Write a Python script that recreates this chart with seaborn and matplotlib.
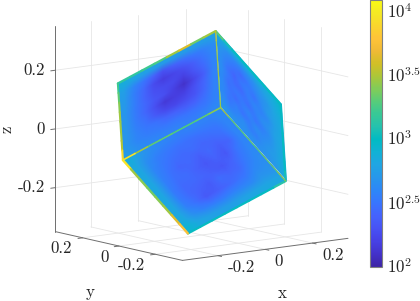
import numpy as np
import matplotlib
matplotlib.use("Agg")
import matplotlib.pyplot as plt
import seaborn as sns
from matplotlib.cm import ScalarMappable
from matplotlib.collections import LineCollection
from matplotlib.colors import Normalize
from matplotlib.transforms import Affine2D
from mpl_toolkits.mplot3d import proj3d

# ---- data (log10 of the plotted quantity) ----
AXIS_TICKS = [-0.2, 0.0, 0.2]
AXIS_TICK_LABELS = ["-0.2", "0", "0.2"]
CBAR_TICKS = [2, 2.5, 3, 3.5, 4]
CBAR_LABELS = [r"$10^{2}$", r"$10^{2.5}$", r"$10^{3}$", r"$10^{3.5}$", r"$10^{4}$"]

# cube edge vectors, from the corner nearest the viewer
EDGE_TO_TOP = np.array([0.1937, 0.2800, 0.2010])
EDGE_TO_LEFT = np.array([-0.1918, 0.2887, -0.1983])
EDGE_TO_RIGHT = np.array([0.2819, 0.0091, -0.2817])

FACE_LEFT = [
    [2.60, 2.56, 2.54, 2.54, 2.56, 2.56, 2.58, 2.60, 2.64, 2.72],
    [2.56, 2.50, 2.48, 2.48, 2.50, 2.50, 2.52, 2.54, 2.58, 2.68],
    [2.56, 2.46, 2.38, 2.36, 2.38, 2.40, 2.47, 2.50, 2.56, 2.68],
    [2.56, 2.42, 2.30, 2.25, 2.22, 2.24, 2.33, 2.46, 2.54, 2.68],
    [2.56, 2.40, 2.28, 2.18, 2.17, 2.14, 2.27, 2.41, 2.52, 2.68],
    [2.56, 2.36, 2.22, 2.09, 2.18, 2.27, 2.31, 2.42, 2.52, 2.68],
    [2.57, 2.42, 2.30, 2.18, 2.24, 2.25, 2.28, 2.40, 2.54, 2.70],
    [2.58, 2.47, 2.36, 2.27, 2.21, 2.17, 2.25, 2.42, 2.54, 2.72],
    [2.62, 2.54, 2.49, 2.42, 2.36, 2.28, 2.38, 2.48, 2.58, 2.74],
    [2.74, 2.72, 2.72, 2.72, 2.72, 2.72, 2.74, 2.76, 2.78, 2.84],
]
FACE_BOTTOM = [
    [2.60, 2.58, 2.58, 2.58, 2.58, 2.60, 2.62, 2.64, 2.68, 2.80],
    [2.56, 2.50, 2.46, 2.40, 2.48, 2.50, 2.54, 2.60, 2.68, 2.80],
    [2.56, 2.48, 2.42, 2.36, 2.32, 2.40, 2.42, 2.50, 2.60, 2.80],
    [2.56, 2.46, 2.40, 2.42, 2.38, 2.32, 2.40, 2.45, 2.58, 2.78],
    [2.54, 2.46, 2.44, 2.36, 2.32, 2.36, 2.44, 2.40, 2.56, 2.76],
    [2.56, 2.47, 2.42, 2.42, 2.38, 2.40, 2.34, 2.36, 2.52, 2.74],
    [2.58, 2.50, 2.45, 2.40, 2.44, 2.42, 2.38, 2.33, 2.52, 2.74],
    [2.62, 2.54, 2.50, 2.47, 2.45, 2.42, 2.42, 2.45, 2.55, 2.76],
    [2.70, 2.62, 2.58, 2.56, 2.54, 2.52, 2.52, 2.55, 2.64, 2.80],
    [2.84, 2.80, 2.80, 2.80, 2.80, 2.80, 2.80, 2.80, 2.82, 2.90],
]
FACE_RIGHT = [
    [2.68, 2.66, 2.64, 2.64, 2.64, 2.64, 2.66, 2.68, 2.72, 2.84],
    [2.62, 2.55, 2.58, 2.62, 2.55, 2.55, 2.64, 2.70, 2.74, 2.84],
    [2.60, 2.48, 2.55, 2.48, 2.52, 2.62, 2.60, 2.65, 2.74, 2.84],
    [2.60, 2.50, 2.44, 2.52, 2.58, 2.50, 2.55, 2.62, 2.74, 2.82],
    [2.60, 2.46, 2.50, 2.50, 2.46, 2.54, 2.62, 2.65, 2.76, 2.82],
    [2.62, 2.50, 2.43, 2.43, 2.52, 2.58, 2.56, 2.62, 2.74, 2.82],
    [2.62, 2.48, 2.40, 2.50, 2.54, 2.48, 2.60, 2.70, 2.76, 2.82],
    [2.64, 2.55, 2.48, 2.43, 2.50, 2.57, 2.64, 2.68, 2.78, 2.84],
    [2.70, 2.62, 2.58, 2.56, 2.60, 2.64, 2.70, 2.76, 2.82, 2.88],
    [2.84, 2.84, 2.84, 2.84, 2.84, 2.84, 2.84, 2.84, 2.86, 2.92],
]

EDGE_NEAR_TOP = [3.45, 3.40, 3.40, 3.45, 3.45, 3.45, 3.45, 3.55]
EDGE_NEAR_LEFT = [3.40, 3.30, 3.25, 3.25, 3.30, 3.30, 3.45, 3.95]
EDGE_NEAR_RIGHT = [3.45, 3.30, 3.25, 3.30, 3.25, 3.30, 3.30, 3.40]
EDGE_LEFT_BOTTOM = [3.95, 3.45, 3.40, 3.35, 3.40, 3.45, 3.62, 3.75]
EDGE_UPPER_LEFT = [3.20, 3.30, 3.40, 3.45, 3.45, 3.45, 3.50, 3.90]
EDGE_UPPER_TOP = [3.15, 3.15, 3.20, 3.25, 3.45, 3.60, 3.35, 3.45]
EDGE_TOP_RIGHT = [3.30, 3.05, 3.00, 3.00, 3.00, 3.00, 3.00, 3.00]
EDGE_RIGHT_SIDE = [3.00, 3.00, 3.00, 3.00, 3.00, 3.00, 3.00, 3.05]
EDGE_RIGHT_BOTTOM = [3.10, 3.00, 3.00, 3.00, 3.00, 3.00, 3.00, 3.00]

PARULA = [
    (0.2422, 0.1504, 0.6603), (0.2647, 0.1978, 0.7952), (0.2783, 0.2559, 0.8991),
    (0.2810, 0.3228, 0.9579), (0.2699, 0.3892, 0.9906), (0.2206, 0.4603, 0.9973),
    (0.1786, 0.5289, 0.9682), (0.1540, 0.5902, 0.9218), (0.1248, 0.6459, 0.8883),
    (0.0689, 0.6948, 0.8394), (0.0067, 0.7312, 0.7660), (0.1408, 0.7584, 0.6842),
    (0.2161, 0.7843, 0.5923), (0.3406, 0.8008, 0.4789), (0.5044, 0.7993, 0.3480),
    (0.6720, 0.7793, 0.2227), (0.8203, 0.7498, 0.1535), (0.9393, 0.7288, 0.2100),
    (0.9970, 0.7659, 0.2199), (0.9786, 0.8386, 0.1766), (0.9597, 0.9135, 0.1423),
    (0.9769, 0.9839, 0.0805),
]

sns.set_style("white")
plt.rcParams["font.family"] = ["cmr10", "DejaVu Serif"]
plt.rcParams["mathtext.fontset"] = "cm"
plt.rcParams["axes.formatter.use_mathtext"] = True

TEXT = "#262626"
AXIS = "#6e6e6e"
GRID = "#e6e6e6"
LIM = 0.35
FS = 12.2
cmap = sns.blend_palette(PARULA, 256, as_cmap=True)
norm = Normalize(1.988, 4.078)

fig = plt.figure(figsize=(4.2, 3.01), dpi=100)
W = 380
ax = fig.add_axes([6.6 / 420, -26.4 / 301, W / 420, W / 301], projection="3d", proj_type="ortho")
ax.view_init(elev=10, azim=-127.5)
ax.set_xlim(-LIM, LIM)
ax.set_ylim(-LIM, LIM)
ax.set_zlim(-LIM, LIM)
ax.set_box_aspect((1, 1, 1), zoom=350.8 / W)
ax.set_axis_off()

# grid on the two back walls and the floor
for t in AXIS_TICKS:
    for xs, ys, zs in [
        ([t, t], [-LIM, LIM], [-LIM, -LIM]),
        ([t, t], [LIM, LIM], [-LIM, LIM]),
        ([-LIM, LIM], [t, t], [-LIM, -LIM]),
        ([LIM, LIM], [t, t], [-LIM, LIM]),
        ([-LIM, LIM], [LIM, LIM], [t, t]),
        ([LIM, LIM], [-LIM, LIM], [t, t]),
    ]:
        ax.plot(xs, ys, zs, color=GRID, lw=0.6, zorder=1)

# axis lines and tick marks
for xs, ys, zs in [
    ([-LIM, -LIM], [LIM, LIM], [-LIM, LIM]),
    ([-LIM, -LIM], [-LIM, LIM], [-LIM, -LIM]),
    ([-LIM, LIM], [-LIM, -LIM], [-LIM, -LIM]),
]:
    ax.plot(xs, ys, zs, color=AXIS, lw=0.7, zorder=2)
for t in AXIS_TICKS:
    ax.plot([-LIM - 0.02, -LIM], [LIM, LIM], [t, t], color=AXIS, lw=0.7, zorder=2)
    ax.plot([-LIM - 0.02, -LIM], [t, t], [-LIM, -LIM], color=AXIS, lw=0.7, zorder=2)
    ax.plot([t, t], [-LIM - 0.02, -LIM], [-LIM, -LIM], color=AXIS, lw=0.7, zorder=2)

fig.canvas.draw()
ax.apply_aspect()
M = ax.get_proj()


def to_px(p):
    x2, y2, _ = proj3d.proj_transform(p[0], p[1], p[2], M)
    return ax.transData.transform((x2, y2))


# overlay in display pixels for the cube and the labels
ov = fig.add_axes([0, 0, 1, 1], facecolor="none")
ov.set_axis_off()

near = -(EDGE_TO_TOP + EDGE_TO_LEFT + EDGE_TO_RIGHT) / 2


def draw_face(values, e_u, e_v):
    o = to_px(near)
    a = to_px(near + e_u) - o
    b = to_px(near + e_v) - o
    tr = Affine2D.from_values(a[0], a[1], b[0], b[1], o[0], o[1]) + ov.transData
    ov.imshow(np.array(values), extent=(0, 1, 0, 1), origin="lower", aspect="auto",
              cmap=cmap, norm=norm, interpolation="bilinear", transform=tr, zorder=3)


draw_face(FACE_LEFT, EDGE_TO_LEFT, EDGE_TO_TOP)
draw_face(FACE_BOTTOM, EDGE_TO_RIGHT, EDGE_TO_LEFT)
draw_face(FACE_RIGHT, EDGE_TO_RIGHT, EDGE_TO_TOP)


def draw_edge(start, vec, values, lw):
    n = len(values)
    pts = np.array([to_px(start + vec * i / n) for i in range(n + 1)])
    segs = np.stack([pts[:-1], pts[1:]], axis=1)
    lc = LineCollection(segs, array=np.array(values), cmap=cmap, norm=norm,
                        linewidths=lw, capstyle="round", zorder=4)
    ov.add_collection(lc)


c_top = near + EDGE_TO_TOP
c_left = near + EDGE_TO_LEFT
c_right = near + EDGE_TO_RIGHT
c_upper_left = c_top + EDGE_TO_LEFT
c_upper_right = c_top + EDGE_TO_RIGHT
c_bottom = c_left + EDGE_TO_RIGHT
draw_edge(c_right, c_bottom - c_right, EDGE_RIGHT_BOTTOM, 1.6)
draw_edge(c_upper_right, c_right - c_upper_right, EDGE_RIGHT_SIDE, 1.4)
draw_edge(c_top, c_upper_right - c_top, EDGE_TOP_RIGHT, 1.4)
draw_edge(c_upper_left, c_top - c_upper_left, EDGE_UPPER_TOP, 1.6)
draw_edge(c_upper_left, c_left - c_upper_left, EDGE_UPPER_LEFT, 1.5)
draw_edge(c_left, c_bottom - c_left, EDGE_LEFT_BOTTOM, 1.7)
draw_edge(near, EDGE_TO_TOP, EDGE_NEAR_TOP, 0.9)
draw_edge(near, EDGE_TO_LEFT, EDGE_NEAR_LEFT, 1.2)
draw_edge(near, EDGE_TO_RIGHT, EDGE_NEAR_RIGHT, 0.9)

# tick labels
for t, lab in zip(AXIS_TICKS, AXIS_TICK_LABELS):
    px = to_px((-LIM, LIM, t))
    ov.text(px[0] - 10.5, px[1], lab, ha="right", va="center", fontsize=FS, color=TEXT)
    px = to_px((t, -LIM, -LIM))
    ov.text(px[0] + 9.5, px[1] - 12, lab, ha="left", va="center", fontsize=FS, color=TEXT)
    px = to_px((-LIM, t, -LIM))
    ov.text(px[0] - 10.5, px[1] - 11, lab, ha="right", va="center", fontsize=FS, color=TEXT)

ov.text(6.5, 301 - 129, "z", rotation=90, ha="center", va="center", fontsize=FS, color=TEXT)
ov.text(90.5, 301 - 292, "y", ha="center", va="center", fontsize=FS, color=TEXT)
ov.text(282, 301 - 293, "x", ha="center", va="center", fontsize=FS, color=TEXT)
ov.set_xlim(0, 420)
ov.set_ylim(0, 301)

# colourbar
cax = fig.add_axes([369.5 / 420, 34.5 / 301, 12.5 / 420, 266.5 / 301])
cb = fig.colorbar(ScalarMappable(norm=norm, cmap=cmap), cax=cax)
cb.set_ticks(CBAR_TICKS)
cb.set_ticklabels(CBAR_LABELS)
cb.ax.tick_params(direction="in", length=2.5, width=0.6, color=AXIS, labelsize=FS,
                  labelcolor=TEXT, pad=3.5, right=True)
cb.outline.set_edgecolor("#808080")
cb.outline.set_linewidth(0.8)

fig.savefig("out.png", dpi=100)
